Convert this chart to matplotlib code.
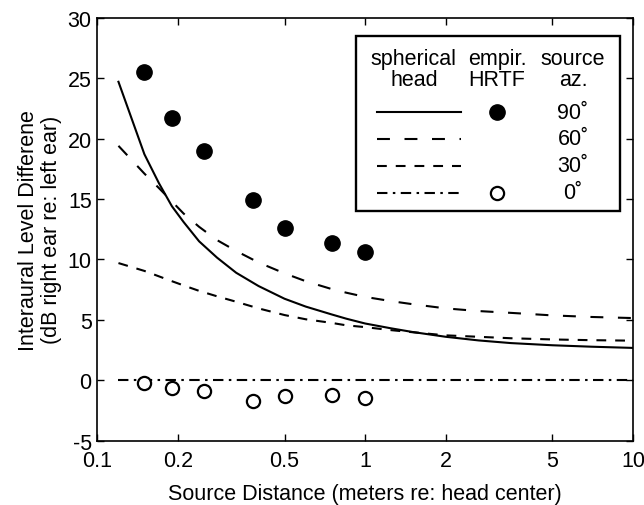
import numpy as np
import matplotlib.pyplot as plt
from matplotlib.lines import Line2D
from matplotlib.patches import Rectangle

plt.rcParams['font.family'] = ['Liberation Sans', 'DejaVu Sans']
plt.rcParams['axes.unicode_minus'] = False

# spherical head model curves
dist = [0.12, 0.15, 0.17, 0.19, 0.21, 0.24, 0.28, 0.33, 0.4, 0.5, 0.6, 0.75,
        0.85, 1.0, 1.25, 1.5, 2.0, 2.65, 3.5, 5, 7, 10]
ild_90 = [24.7, 18.7, 16.3, 14.4, 13.1, 11.5, 10.15, 8.9, 7.8, 6.75, 6.1, 5.45,
          5.1, 4.7, 4.3, 4.0, 3.6, 3.3, 3.08, 2.9, 2.78, 2.68]
ild_60 = [19.4, 17.1, 15.9, 14.8, 13.8, 12.7, 11.6, 10.7, 9.75, 8.85, 8.2, 7.55,
          7.25, 6.9, 6.55, 6.3, 5.95, 5.73, 5.58, 5.37, 5.24, 5.15]
ild_30 = [9.7, 9.05, 8.6, 8.2, 7.85, 7.4, 6.95, 6.5, 5.95, 5.4, 5.05, 4.75,
          4.55, 4.4, 4.15, 3.98, 3.72, 3.6, 3.48, 3.38, 3.32, 3.28]
ild_0 = [0.0] * len(dist)

# empirical HRTF measurements
hrtf_dist = [0.15, 0.19, 0.25, 0.38, 0.5, 0.75, 1.0]
hrtf_90 = [25.5, 21.7, 19.0, 14.9, 12.6, 11.4, 10.6]
hrtf_0 = [-0.2, -0.6, -0.9, -1.7, -1.3, -1.2, -1.5]

az_labels = ['90˚', '60˚', '30˚', '0˚']

fs = 15.5
fig = plt.figure(figsize=(6.44, 5.06), dpi=100)
ax = fig.add_axes([0.151, 0.127, 0.832, 0.836])

lw = 1.5
styles = [
    dict(ls='-'),
    dict(ls=(0, (6.2, 7.0))),
    dict(ls=(0, (4.7, 4.3))),
    dict(ls=(0, (5.0, 2.6, 1.2, 2.6))),
]
for y, st in zip([ild_90, ild_60, ild_30, ild_0], styles):
    ax.plot(dist, y, color='k', lw=lw, **st)

ax.plot(hrtf_dist, hrtf_90, 'o', color='k', ms=11)
ax.plot(hrtf_dist, hrtf_0, 'o', mfc='white', mec='k', mew=1.6, ms=9.5)

ax.set_xscale('log')
ax.set_xlim(0.1, 10)
ax.set_ylim(-5, 30)
ax.set_xticks([0.1, 0.2, 0.5, 1, 2, 5, 10])
ax.set_xticklabels(['0.1', '0.2', '0.5', '1', '2', '5', '10'])
ax.xaxis.set_minor_locator(plt.NullLocator())
ax.set_yticks(np.arange(-5, 31, 5))
ax.tick_params(direction='in', top=True, right=True, labelsize=fs, length=5, width=1)
ax.tick_params(axis='x', pad=7)
ax.tick_params(axis='y', pad=4)
for s in ax.spines.values():
    s.set_linewidth(1.2)

ax.set_xlabel('Source Distance (meters re: head center)', fontsize=fs, labelpad=8)
ax.set_ylabel('Interaural Level Differene\n(dB right ear re: left ear)', fontsize=fs,
              labelpad=4, linespacing=1.1)

# hand-built legend box
T = ax.transAxes
ax.add_patch(Rectangle((0.483, 0.543), 0.493, 0.413, transform=T, fill=True,
                       fc='white', ec='k', lw=1.7, zorder=5))
c1, c2, c3 = 0.591, 0.746, 0.888
for cx, txt in zip([c1, c2, c3], ['spherical\nhead', 'empir.\nHRTF', 'source\naz.']):
    ax.text(cx, 0.879, txt, transform=T, ha='center', va='center', fontsize=fs,
            zorder=6, linespacing=1.05)
rows = [0.777, 0.714, 0.650, 0.586]
for r, st, lab in zip(rows, styles, az_labels):
    ax.add_line(Line2D([0.522, 0.679], [r, r], transform=T, color='k', lw=lw, zorder=6, **st))
    ax.text(c3, r, lab, transform=T, ha='center', va='center', fontsize=fs, zorder=6)
ax.add_line(Line2D([c2], [rows[0]], transform=T, marker='o', color='k', ms=11, zorder=6))
ax.add_line(Line2D([c2], [rows[3]], transform=T, marker='o', mfc='white', mec='k',
                   mew=1.6, ms=9.5, zorder=6))

fig.savefig('out.png', dpi=100)
